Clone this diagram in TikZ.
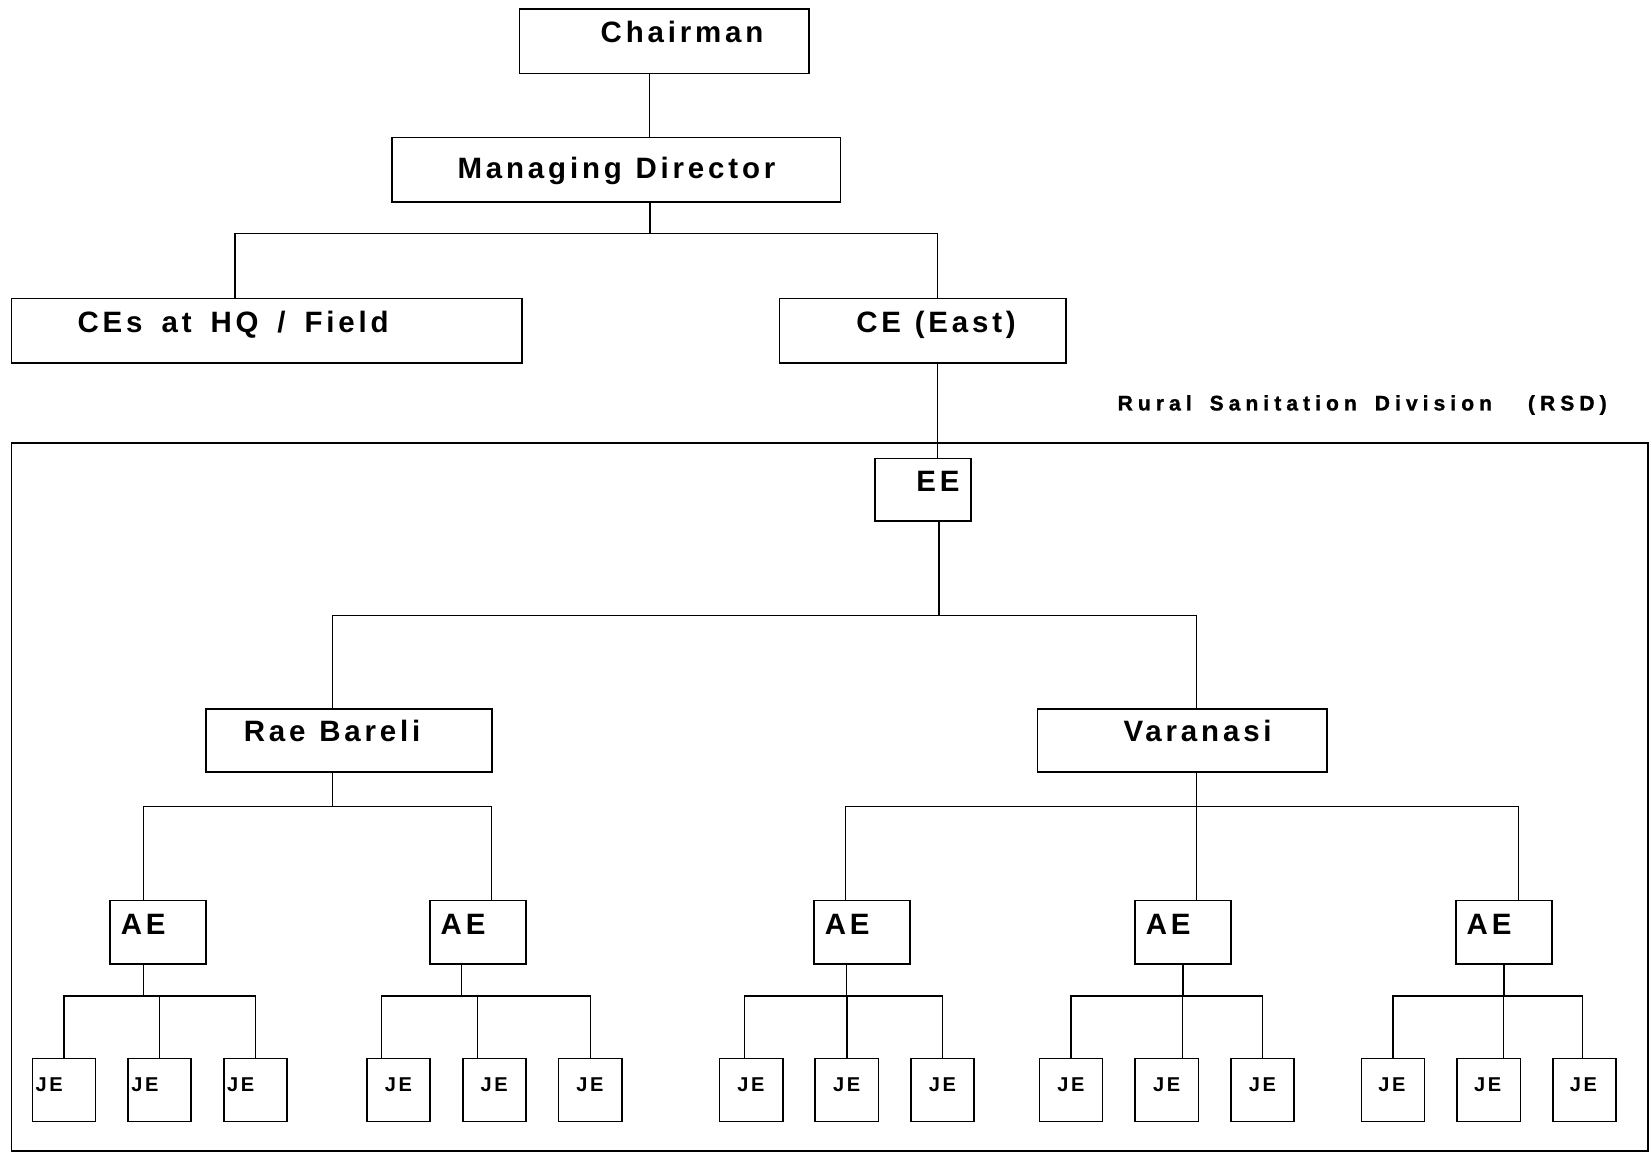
\documentclass[tikz,border=0pt]{standalone}
\usepackage{fontspec}
\newfontfamily\chartfont{Liberation Sans}[LetterSpace=13]
\newfontfamily\rsdfont{Liberation Sans}[LetterSpace=24, WordSpace=1.65,
  BoldFeatures={FakeBold=1.2}]
\newcommand\widegap{\spaceskip=13pt plus 2pt\relax}
\newcommand\widergap{\spaceskip=18pt plus 2pt\relax}
\usetikzlibrary{positioning}
\tikzset{
  post/.style   = {draw, line width=1.6pt, inner sep=0pt, anchor=north west,
                   align=left, text height=32pt, text depth=29pt,
                   font=\chartfont\bfseries\fontsize{28}{30}\selectfont},
  aepost/.style = {post, text width=91pt, text height=32pt, text depth=28pt},
  jepost/.style = {post, text width=60pt, text height=31pt, text depth=29pt,
                   font=\chartfont\bfseries\fontsize{19}{21}\selectfont},
  frame/.style  = {draw, line width=1.6pt, inner sep=0pt, anchor=north west},
  rsdlbl/.style = {inner sep=0pt, anchor=base east,
                   font=\rsdfont\bfseries\fontsize{20}{22}\selectfont},
  conn/.style   = {line width=1.2pt},
}

\begin{document}
\begin{tikzpicture}[x=1pt, y=-1pt, node distance=29.4pt]
\useasboundingbox (0,0) rectangle (1568,1095);

%% ── Head office ───────────────────────────────────────────────────────────
\node[post, text width=275pt] (chair) at (493,8) {\hspace*{77pt}Chairman};
\node[post, text width=426pt, text height=39pt, text depth=22pt]
  (md) at (372,130) {\widegap\hspace*{62pt}Managing Director};
\node[post, text width=485pt] (hq) at (10,283) {\widergap\hspace*{63pt}CEs at HQ / Field};
\node[post, text width=272pt] (east) at (740,283) {\widegap\hspace*{73pt}CE (East)};

%% ── Rural Sanitation Division ─────────────────────────────────────────────
\node[frame, minimum width=1555pt, minimum height=673pt] (rsd) at (10,420) {};
\node[rsdlbl] (rsdname) at (1527,390) {Rural Sanitation Division\ \ (RSD)};

\node[post, text width=91pt, text height=31pt, text depth=28pt]
  (ee) at (831,435) {\hspace*{39pt}EE};
\node[post, text width=272pt, text height=31pt]
  (rae) at (195,673) {\widegap\hspace*{36pt}Rae Bareli};
\node[post, text width=275pt, text height=31pt] (var) at (985,673) {\hspace*{82pt}Varanasi};

%% ── AEs ───────────────────────────────────────────────────────────────────
\node[aepost] (ae1) at (104,855)  {\hspace*{10pt}AE};
\node[aepost] (ae2) at (408,855)  {\hspace*{10pt}AE};
\node[aepost] (ae3) at (773,855)  {\hspace*{10pt}AE};
\node[aepost] (ae4) at (1078,855) {\hspace*{10pt}AE};
\node[aepost] (ae5) at (1383,855) {\hspace*{10pt}AE};

%% ── JEs ───────────────────────────────────────────────────────────────────
\node[jepost] (je1) at (30,1005) {\hspace*{3pt}JE};
\node[jepost, right=of je1] (je2) {\hspace*{3pt}JE};
\node[jepost, right=of je2] (je3) {\hspace*{3pt}JE};

\node[jepost] (je4) at (348,1005) {\hspace*{17pt}JE};
\node[jepost, right=of je4] (je5) {\hspace*{17pt}JE};
\node[jepost, right=of je5] (je6) {\hspace*{17pt}JE};

\node[jepost] (je7) at (683,1005) {\hspace*{17pt}JE};
\node[jepost, right=of je7] (je8) {\hspace*{17pt}JE};
\node[jepost, right=of je8] (je9) {\hspace*{17pt}JE};

\node[jepost] (je10) at (987,1005) {\hspace*{17pt}JE};
\node[jepost, right=of je10] (je11) {\hspace*{17pt}JE};
\node[jepost, right=of je11] (je12) {\hspace*{17pt}JE};

\node[jepost] (je13) at (1293,1005) {\hspace*{16pt}JE};
\node[jepost, right=of je13] (je14) {\hspace*{16pt}JE};
\node[jepost, right=of je14] (je15) {\hspace*{16pt}JE};

%% ── Lines: head office ────────────────────────────────────────────────────
\draw[conn] ([xshift=-14pt]chair.south) -- ([xshift=-14pt]chair.south |- md.north);

\draw[conn] ([xshift=32pt]md.south) -- ++(0,29) coordinate (mdbus);
\draw[conn] ([xshift=-30pt]hq.north) |- (mdbus) -| ([xshift=14pt]east.north);

\draw[conn] ([xshift=14pt]east.south) -- ([xshift=14pt]east.south |- ee.north);

%% ── Lines: EE → districts → AEs ──────────────────────────────────────────
\draw[conn] ([xshift=15pt]ee.south) -- ++(0,89) coordinate (eebus);
\draw[conn] ([xshift=-16pt]rae.north) |- (eebus) -| ([xshift=14pt]var.north);

\draw[conn] ([xshift=-16pt]rae.south) -- ++(0,32) coordinate (raebus);
\draw[conn] ([xshift=-14pt]ae1.north) |- (raebus) -| ([xshift=13pt]ae2.north);

\draw[conn] ([xshift=14pt]var.south) -- ([xshift=14pt]var.south |- ae4.north);
\draw[conn] ([xshift=-16pt]ae3.north) |- ([xshift=14pt]var.south |- raebus)
  -| ([xshift=14pt]ae5.north);

%% ── Lines: AEs → JEs ──────────────────────────────────────────────────────
\draw[conn] ([xshift=-14pt]ae1.south) -- ++(0,30) coordinate (ae1bus);
\draw[conn] (je1.north) |- (ae1bus) -| (je3.north);
\draw[conn] (je2.north) -- (je2.north |- ae1bus);

\draw[conn] ([xshift=-16pt]ae2.south) -- ++(0,30) coordinate (ae2bus);
\draw[conn] ([xshift=-16pt]je4.north) |- (ae2bus) -| (je6.north);
\draw[conn] ([xshift=-16pt]je5.north) -- ([xshift=-16pt]je5.north |- ae2bus);

\draw[conn] ([xshift=-15pt]ae3.south) -- ++(0,30) coordinate (ae3bus);
\draw[conn] ([xshift=-6pt]je7.north) |- (ae3bus) -| (je9.north);
\draw[conn] (je8.north) -- (je8.north |- ae3bus);

\draw[conn] (ae4.south) -- ++(0,30) coordinate (ae4bus);
\draw[conn] (je10.north) |- (ae4bus) -| (je12.north);
\draw[conn] ([xshift=15pt]je11.north) -- ([xshift=15pt]je11.north |- ae4bus);

\draw[conn] (ae5.south) -- ++(0,30) coordinate (ae5bus);
\draw[conn] (je13.north) |- (ae5bus) -| ([xshift=-2pt]je15.north);
\draw[conn] ([xshift=14pt]je14.north) -- ([xshift=14pt]je14.north |- ae5bus);

\end{tikzpicture}
\end{document}
